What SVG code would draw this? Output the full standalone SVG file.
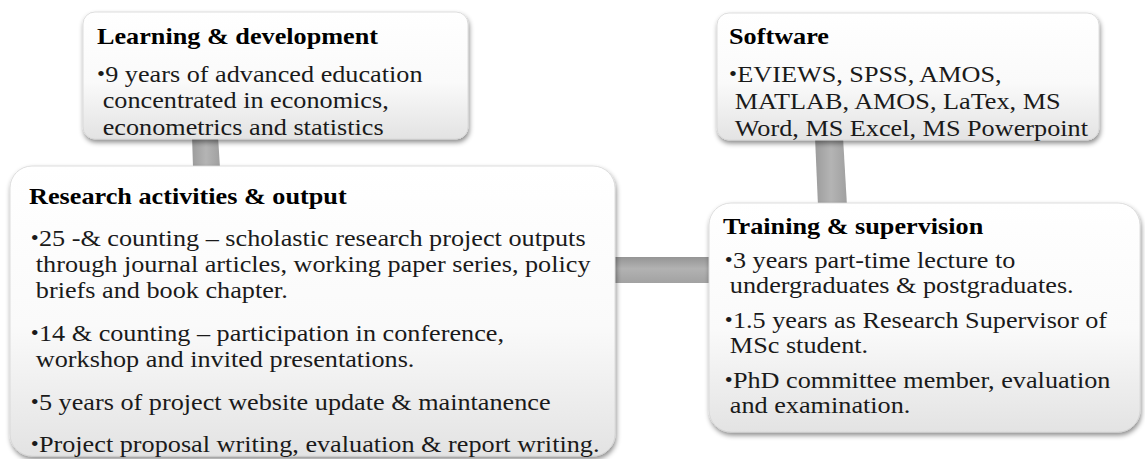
<svg xmlns="http://www.w3.org/2000/svg" width="1145" height="459" viewBox="0 0 1145 459">
  <defs>
    <linearGradient id="boxFill" x1="0" y1="0" x2="0" y2="1">
      <stop offset="0" stop-color="#ffffff"/>
      <stop offset="0.55" stop-color="#fafafa"/>
      <stop offset="1" stop-color="#e3e3e3"/>
    </linearGradient>
    <linearGradient id="barV" x1="0" y1="0" x2="1" y2="0">
      <stop offset="0" stop-color="#9c9c9c"/>
      <stop offset="0.5" stop-color="#b4b4b4"/>
      <stop offset="1" stop-color="#a0a0a0"/>
    </linearGradient>
    <linearGradient id="barH" x1="0" y1="0" x2="0" y2="1">
      <stop offset="0" stop-color="#959595"/>
      <stop offset="0.45" stop-color="#b2b2b2"/>
      <stop offset="1" stop-color="#a2a2a2"/>
    </linearGradient>
    <filter id="shadow" x="-5%" y="-5%" width="110%" height="120%">
      <feDropShadow dx="1" dy="3" stdDeviation="2.5" flood-color="#000" flood-opacity="0.45"/>
    </filter>
  </defs>
  <style>
    .box { fill: url(#boxFill); stroke: #d6d6d6; stroke-width: 0.8; filter: url(#shadow); }
    .title { font-family: "Liberation Serif", "Times New Roman", serif; font-weight: bold; font-size: 23px; fill: #000; }
    .body { font-family: "Liberation Serif", "Times New Roman", serif; font-size: 23px; fill: #1a1a1a; }
    .bul { font-family: "Liberation Serif", "Times New Roman", serif; font-size: 20px; fill: #1a1a1a; }
  </style>
  <rect width="1145" height="459" fill="#ffffff"/>

  <g id="connectors">
    <polygon points="192,136 218,136 220,168 193,168" fill="url(#barV)"/>
    <polygon points="815,137 843,137 847,206 818,206" fill="url(#barV)"/>
    <rect x="612" y="257" width="100" height="26" fill="url(#barH)"/>
  </g>

  <g id="learning">
    <rect class="box" x="83" y="12" width="385" height="127" rx="12"/>
    <g transform="translate(97 0) scale(1.14 1)">
      <text class="title" x="0" y="44">Learning &amp; development</text>
      <text class="bul" x="0" y="81">•</text>
      <text class="body" x="7.2" y="82">9 years of advanced education</text>
      <text class="body" x="5" y="108">concentrated in economics,</text>
      <text class="body" x="5" y="135">econometrics and statistics</text>
    </g>
  </g>

  <g id="software">
    <rect class="box" x="717" y="13" width="382" height="127" rx="12"/>
    <g transform="translate(729 0) scale(1.14 1)">
      <text class="title" x="0" y="44">Software</text>
      <text class="bul" x="0" y="81">•</text>
      <text class="body" x="7.2" y="82">EVIEWS, SPSS, AMOS,</text>
      <text class="body" x="5" y="109">MATLAB, AMOS, LaTex, MS</text>
      <text class="body" x="5" y="136">Word, MS Excel, MS Powerpoint</text>
    </g>
  </g>

  <g id="research">
    <rect class="box" x="10" y="166" width="605" height="290" rx="22"/>
    <g transform="translate(29 0) scale(1.14 1)">
      <text class="title" x="0" y="204">Research activities &amp; output</text>
      <text class="bul" x="1.5" y="245">•</text>
      <text class="body" x="8.7" y="246">25 -&amp; counting – scholastic research project outputs</text>
      <text class="body" x="6" y="272">through journal articles, working paper series, policy</text>
      <text class="body" x="6" y="298">briefs and book chapter.</text>
      <text class="bul" x="1.5" y="340">•</text>
      <text class="body" x="8.7" y="341">14 &amp; counting – participation in conference,</text>
      <text class="body" x="6" y="367">workshop and invited presentations.</text>
      <text class="bul" x="1.5" y="409">•</text>
      <text class="body" x="8.7" y="410">5 years of project website update &amp; maintanence</text>
      <text class="bul" x="1.5" y="451">•</text>
      <text class="body" x="8.7" y="452">Project proposal writing, evaluation &amp; report writing.</text>
    </g>
  </g>

  <g id="training">
    <rect class="box" x="709" y="203" width="431" height="229" rx="22"/>
    <g transform="translate(723 0) scale(1.14 1)">
      <text class="title" x="0" y="234">Training &amp; supervision</text>
      <text class="bul" x="1.5" y="267">•</text>
      <text class="body" x="8.7" y="268">3 years part-time lecture to</text>
      <text class="body" x="6" y="293">undergraduates &amp; postgraduates.</text>
      <text class="bul" x="1.5" y="327">•</text>
      <text class="body" x="8.7" y="328">1.5 years as Research Supervisor of</text>
      <text class="body" x="6" y="353">MSc student.</text>
      <text class="bul" x="1.5" y="387">•</text>
      <text class="body" x="8.7" y="388">PhD committee member, evaluation</text>
      <text class="body" x="6" y="413">and examination.</text>
    </g>
  </g>
</svg>
